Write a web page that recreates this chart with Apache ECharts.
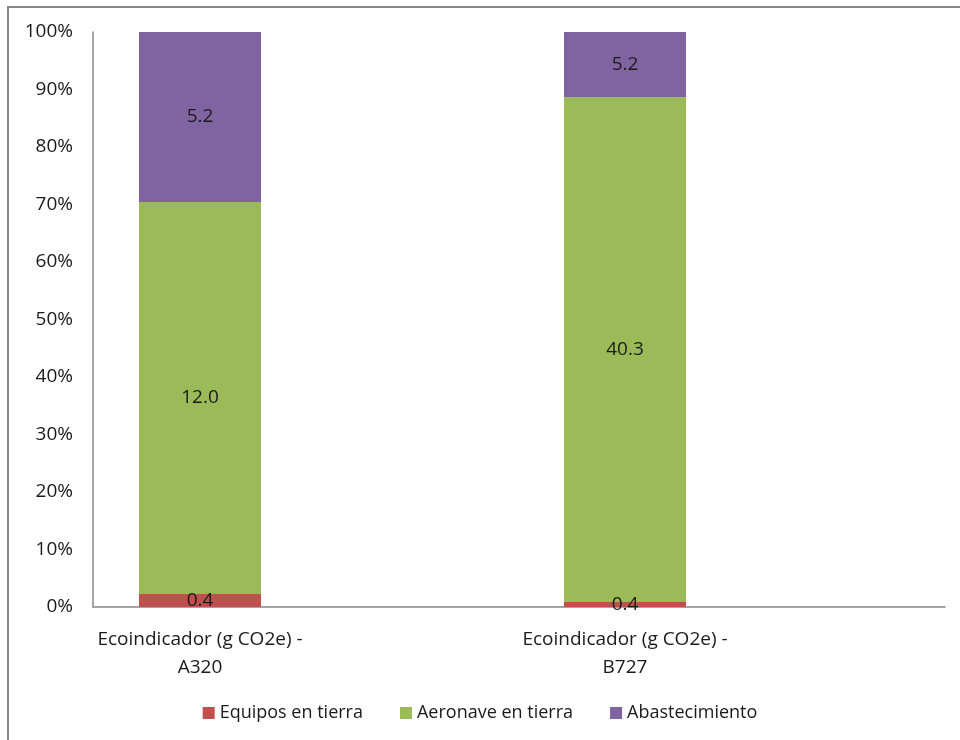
<!DOCTYPE html>
<html>
<head>
<meta charset="utf-8">
<script src="https://cdn.jsdelivr.net/npm/echarts@6/dist/echarts.min.js"></script>
<style>
  html, body { margin: 0; padding: 0; background: #ffffff; }
  #chart { width: 960px; height: 740px; }
</style>
</head>
<body>
<div id="chart"></div>
<script>
// Categories (aircraft) and raw contributions in g CO2e
const categories = ['Ecoindicador (g CO2e) -\nA320', 'Ecoindicador (g CO2e) -\nB727'];
const seriesNames = ['Equipos en tierra', 'Aeronave en tierra', 'Abastecimiento'];
const equiposEnTierra = [0.4, 0.4];
const aeronaveEnTierra = [12.0, 40.3];
const abastecimiento = [5.2, 5.2];
const yTickLabels = ['0%', '10%', '20%', '30%', '40%', '50%', '60%', '70%', '80%', '90%', '100%'];

const colors = ['#C0504D', '#9BBB59', '#8064A2'];
const rawSeries = [equiposEnTierra, aeronaveEnTierra, abastecimiento];
const totals = categories.map((_, i) => rawSeries.reduce((s, arr) => s + arr[i], 0));

const FONT = '"Open Sans", "Noto Sans", sans-serif';
const FS = 19;
const TOP = 32, BOTTOM = 133;

const chart = echarts.init(document.getElementById('chart'), null, { renderer: 'canvas' });

// 100% stacked bars: each segment is its share of the column total,
// the label shows the raw value
const series = rawSeries.map((arr, k) => ({
  name: seriesNames[k],
  type: 'bar',
  stack: 'total',
  xAxisIndex: 1,
  yAxisIndex: 1,
  barWidth: 122,
  itemStyle: { color: colors[k] },
  label: {
    show: true,
    position: 'inside',
    color: '#1a1a1a',
    fontFamily: FONT,
    fontSize: FS,
    formatter: p => arr[p.dataIndex].toFixed(1)
  },
  data: arr.map((v, i) => v / totals[i] * 100)
}));

chart.setOption({
  animation: false,
  backgroundColor: '#ffffff',
  color: colors,
  graphic: [{
    type: 'rect',
    shape: { x: 8, y: 7, width: 1200, height: 1200 },
    style: { fill: 'none', stroke: '#878787', lineWidth: 2 },
    silent: true
  }],
  grid: [
    // frame grid: axis lines and percentage labels
    { left: 93, right: 15, top: TOP, bottom: BOTTOM },
    // bar grid: one column at each end
    { left: 200, width: 425, top: TOP, bottom: BOTTOM }
  ],
  legend: {
    bottom: 13,
    left: 'center',
    itemWidth: 12,
    itemHeight: 12,
    itemGap: 37,
    icon: 'rect',
    textStyle: { fontFamily: FONT, fontSize: 18, color: '#1a1a1a' },
    data: seriesNames
  },
  xAxis: [{
    gridIndex: 0,
    type: 'value',
    min: 0,
    max: 1,
    axisLine: { show: true, onZero: false, lineStyle: { color: '#878787', width: 1.5 } },
    axisTick: { show: false },
    splitLine: { show: false },
    axisLabel: { show: false }
  }, {
    gridIndex: 1,
    type: 'category',
    boundaryGap: false,
    data: categories,
    axisLine: { show: false },
    axisTick: { show: false },
    splitLine: { show: false },
    axisLabel: {
      fontFamily: FONT,
      fontSize: FS,
      color: '#1a1a1a',
      lineHeight: 28,
      margin: 19,
      interval: 0
    }
  }],
  yAxis: [{
    gridIndex: 0,
    type: 'value',
    min: 0,
    max: 100,
    interval: 10,
    axisLine: { show: true, lineStyle: { color: '#878787', width: 1.5 } },
    axisTick: { show: false },
    splitLine: { show: false },
    axisLabel: {
      formatter: v => yTickLabels[Math.round(v / 10)],
      fontFamily: FONT,
      fontSize: FS,
      color: '#1a1a1a',
      margin: 20
    }
  }, {
    gridIndex: 1,
    type: 'value',
    min: 0,
    max: 100,
    show: false
  }],
  series: series
});
</script>
</body>
</html>
